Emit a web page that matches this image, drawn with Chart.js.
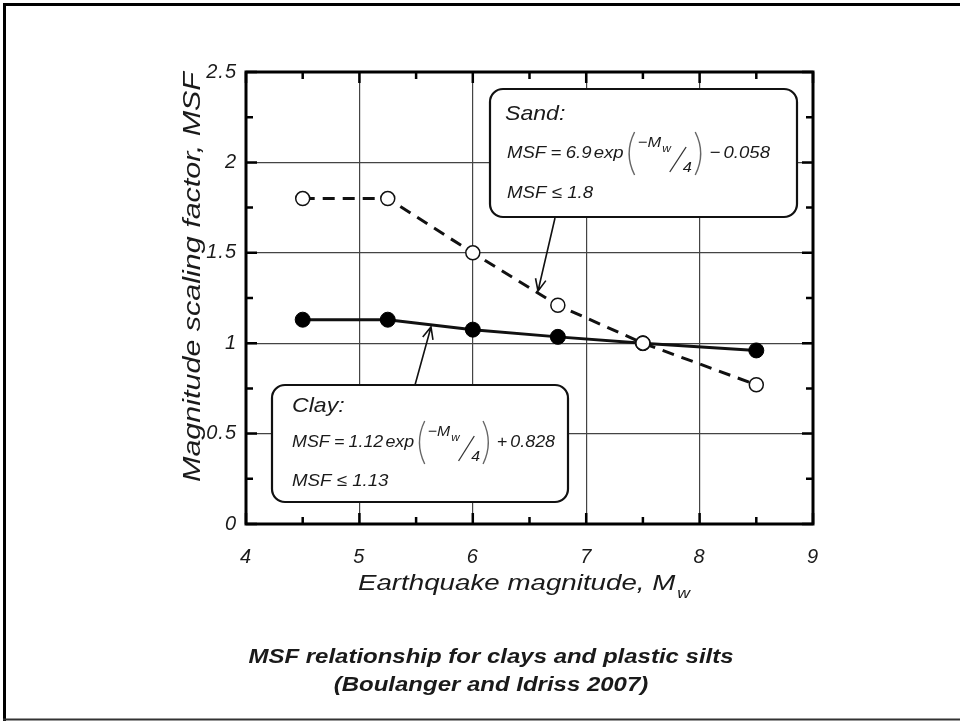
<!DOCTYPE html>
<html>
<head>
<meta charset="utf-8">
<script src="https://cdn.jsdelivr.net/npm/chart.js@4/dist/chart.umd.min.js"></script>
<style>
html,body{margin:0;padding:0;background:#fff;}
canvas{display:block;}
</style>
</head>
<body>
<canvas id="c" width="960" height="721"></canvas>
<script>
// ---- data ----
const magnitudes = [4.5, 5.25, 6, 6.75, 7.5, 8.5];
const sandMSF = [1.8, 1.8, 1.5, 1.21, 1.0, 0.77];
const clayMSF = [1.13, 1.13, 1.075, 1.035, 1.0, 0.96];
const xTickValues = [4, 5, 6, 7, 8, 9];
const yTickValues = [0, 0.5, 1, 1.5, 2, 2.5];
const xMinorTicks = [4.5, 5.5, 6.5, 7.5, 8.5];
const yMinorTicks = [0.25, 0.75, 1.25, 1.75, 2.25];
const xTitle = 'Earthquake magnitude, M';
const xTitleSub = 'w';
const yTitle = 'Magnitude scaling factor, MSF';
const captionLines = ['MSF relationship for clays and plastic silts', '(Boulanger and Idriss 2007)'];
const sandNote = { title: 'Sand:', coef: '6.9', op: '\u2212', constant: '0.058', limit: 'MSF \u2264 1.8' };
const clayNote = { title: 'Clay:', coef: '1.12', op: '+', constant: '0.828', limit: 'MSF \u2264 1.13' };

// ---- layout (not data) ----
const FAM = '"Liberation Sans", Arial, Helvetica, sans-serif';
const sandBox = { x: 490, y: 89, w: 307, h: 128, tx: 15, ty: 31, fx: 17, fy: 69, ly: 109,
                  arrow: [555, 218, 538, 291] };
const clayBox = { x: 272, y: 385, w: 296, h: 117, tx: 20, ty: 27, fx: 20, fy: 62, ly: 101,
                  arrow: [415, 385, 431, 327] };

function sText(ctx, text, x, y, font, align, sx, rot) {
  ctx.save();
  ctx.font = font;
  ctx.translate(x, y);
  if (rot) ctx.rotate(rot);
  ctx.scale(sx, 1);
  ctx.textAlign = align;
  ctx.textBaseline = 'alphabetic';
  ctx.fillText(text, 0, 0);
  ctx.restore();
}

function paren(ctx, x, top, bot, left) {
  ctx.save();
  ctx.strokeStyle = '#666';
  ctx.lineWidth = 1.3;
  ctx.beginPath();
  const mid = (top + bot) / 2;
  if (left) { ctx.moveTo(x + 8, top); ctx.quadraticCurveTo(x - 2, mid, x + 8, bot); }
  else { ctx.moveTo(x, top); ctx.quadraticCurveTo(x + 10, mid, x, bot); }
  ctx.stroke();
  ctx.restore();
}

function formula(ctx, note, draw) {
  let cur = 0;
  const main = 'italic 17px ' + FAM;
  const sup = 'italic 15px ' + FAM;
  const sub = 'italic 11px ' + FAM;
  const put = (t, font, dy, gap) => {
    ctx.font = font;
    if (draw) ctx.fillText(t, cur, dy);
    cur += ctx.measureText(t).width + gap;
  };
  put('MSF', main, 0, 4);
  put('=', main, 0, 4);
  put(note.coef, main, 0, 2);
  put('exp', main, 0, 2);
  if (draw) paren(ctx, cur, -26, 17, true);
  cur += 11;
  put('\u2212M', sup, -11, 1);
  put('w', sub, -6, 0);
  const s0 = cur;
  if (draw) {
    ctx.save();
    ctx.strokeStyle = '#333';
    ctx.lineWidth = 1.2;
    ctx.beginPath();
    ctx.moveTo(s0 - 1, 14);
    ctx.lineTo(s0 + 14, -11);
    ctx.stroke();
    ctx.restore();
  }
  ctx.font = sup;
  if (draw) ctx.fillText('4', s0 + 11, 14);
  cur = s0 + 11 + ctx.measureText('4').width + 3;
  if (draw) paren(ctx, cur, -26, 17, false);
  cur += 13;
  put(note.op, main, 0, 3);
  put(note.constant, main, 0, 0);
  return cur;
}

function drawNote(ctx, box, note) {
  ctx.save();
  ctx.beginPath();
  ctx.roundRect(box.x, box.y, box.w, box.h, 13);
  ctx.fillStyle = '#fff';
  ctx.fill();
  ctx.lineWidth = 2.2;
  ctx.strokeStyle = '#111';
  ctx.stroke();
  ctx.fillStyle = '#1a1a1a';
  sText(ctx, note.title, box.x + box.tx, box.y + box.ty, 'italic 21px ' + FAM, 'left', 1.1, 0);
  const natural = formula(ctx, note, false);
  const sx = 263 / natural;
  ctx.save();
  ctx.translate(box.x + box.fx, box.y + box.fy);
  ctx.scale(sx, 1);
  ctx.textAlign = 'left';
  ctx.textBaseline = 'alphabetic';
  formula(ctx, note, true);
  ctx.restore();
  sText(ctx, note.limit, box.x + box.fx, box.y + box.ly, 'italic 17px ' + FAM, 'left', 1.1, 0);
  ctx.restore();
}

function arrow(ctx, a) {
  const [x1, y1, x2, y2] = a;
  ctx.save();
  ctx.strokeStyle = '#111';
  ctx.lineWidth = 1.6;
  ctx.beginPath();
  ctx.moveTo(x1, y1);
  ctx.lineTo(x2, y2);
  const ang = Math.atan2(y2 - y1, x2 - x1);
  const L = 13, sp = 0.42;
  ctx.moveTo(x2 - L * Math.cos(ang - sp), y2 - L * Math.sin(ang - sp));
  ctx.lineTo(x2, y2);
  ctx.lineTo(x2 - L * Math.cos(ang + sp), y2 - L * Math.sin(ang + sp));
  ctx.stroke();
  ctx.restore();
}

const decorPlugin = {
  id: 'decor',
  beforeDraw(chart) {
    chart.ctx.letterSpacing = '1px';
  },
  beforeDatasetsDraw(chart) {
    chart.ctx.letterSpacing = '0px';
  },
  afterDraw(chart) {
    const ctx = chart.ctx;
    const xs = chart.scales.x, ys = chart.scales.y;
    const a = chart.chartArea;
    ctx.save();
    ctx.letterSpacing = '0px';
    // plot frame
    ctx.strokeStyle = '#000';
    ctx.lineWidth = 3;
    ctx.strokeRect(a.left, a.top, a.right - a.left, a.bottom - a.top);
    // inward ticks
    ctx.lineWidth = 2.5;
    ctx.beginPath();
    yTickValues.forEach(v => {
      const p = ys.getPixelForValue(v);
      ctx.moveTo(a.left, p); ctx.lineTo(a.left + 11, p);
      ctx.moveTo(a.right, p); ctx.lineTo(a.right - 11, p);
    });
    yMinorTicks.forEach(v => {
      const p = ys.getPixelForValue(v);
      ctx.moveTo(a.left, p); ctx.lineTo(a.left + 7, p);
      ctx.moveTo(a.right, p); ctx.lineTo(a.right - 7, p);
    });
    xTickValues.forEach(v => {
      const p = xs.getPixelForValue(v);
      ctx.moveTo(p, a.bottom); ctx.lineTo(p, a.bottom - 11);
      ctx.moveTo(p, a.top); ctx.lineTo(p, a.top + 11);
    });
    xMinorTicks.forEach(v => {
      const p = xs.getPixelForValue(v);
      ctx.moveTo(p, a.bottom); ctx.lineTo(p, a.bottom - 7);
      ctx.moveTo(p, a.top); ctx.lineTo(p, a.top + 7);
    });
    ctx.stroke();

    // axis titles
    ctx.fillStyle = '#1a1a1a';
    const xf = 'italic 22px ' + FAM;
    ctx.font = xf;
    const sxT = 1.26;
    const wMain = ctx.measureText(xTitle).width * sxT;
    ctx.font = 'italic 14px ' + FAM;
    const wSub = ctx.measureText(xTitleSub).width * sxT;
    const startX = 524 - (wMain + wSub + 2) / 2;
    sText(ctx, xTitle, startX, 590, xf, 'left', sxT, 0);
    sText(ctx, xTitleSub, startX + wMain + 2, 598, 'italic 14px ' + FAM, 'left', sxT, 0);
    sText(ctx, yTitle, 200, 277, 'italic 24px ' + FAM, 'center', 1.27, -Math.PI / 2);

    // caption
    sText(ctx, captionLines[0], 491, 663, 'italic bold 19.5px ' + FAM, 'center', 1.23, 0);
    sText(ctx, captionLines[1], 491, 691, 'italic bold 19.5px ' + FAM, 'center', 1.23, 0);

    // arrows and notes
    arrow(ctx, sandBox.arrow);
    arrow(ctx, clayBox.arrow);
    drawNote(ctx, sandBox, sandNote);
    drawNote(ctx, clayBox, clayNote);

    // page border
    ctx.strokeStyle = '#000';
    ctx.lineWidth = 3;
    ctx.beginPath();
    ctx.moveTo(4.5, 721); ctx.lineTo(4.5, 4.5); ctx.lineTo(960, 4.5);
    ctx.stroke();
    ctx.strokeStyle = '#333';
    ctx.lineWidth = 2;
    ctx.beginPath();
    ctx.moveTo(3, 719.5); ctx.lineTo(960, 719.5);
    ctx.stroke();
    ctx.restore();
  }
};

const tickFont = { family: FAM, size: 20, style: 'italic' };
const tickLabel = v => String(v);

new Chart(document.getElementById('c'), {
  type: 'scatter',
  data: {
    datasets: [
      {
        label: 'Sand',
        data: magnitudes.map((m, i) => ({ x: m, y: sandMSF[i] })),
        showLine: true,
        borderColor: '#111',
        borderWidth: 3,
        borderDash: [12, 8],
        pointRadius: 7,
        pointBorderWidth: 1.5,
        pointBackgroundColor: '#fff',
        pointBorderColor: '#111',
        tension: 0
      },
      {
        label: 'Clay',
        data: magnitudes.map((m, i) => ({ x: m, y: clayMSF[i] })),
        showLine: true,
        borderColor: '#111',
        borderWidth: 3,
        pointRadius: 7.5,
        pointBorderWidth: 1,
        pointBackgroundColor: '#000',
        pointBorderColor: '#000',
        tension: 0
      }
    ]
  },
  options: {
    responsive: false,
    animation: false,
    devicePixelRatio: 1,
    layout: { padding: { left: 0, top: 72, right: 147, bottom: 0 } },
    plugins: { legend: { display: false }, tooltip: { enabled: false } },
    scales: {
      x: {
        type: 'linear', min: 4, max: 9,
        afterBuildTicks: s => { s.ticks = xTickValues.map(v => ({ value: v })); },
        afterFit: s => { s.height = 197; },
        ticks: { font: tickFont, color: '#1a1a1a', padding: 21, callback: tickLabel },
        grid: { color: '#444', lineWidth: 1.2, drawTicks: false },
        border: { display: false }
      },
      y: {
        type: 'linear', min: 0, max: 2.5,
        afterBuildTicks: s => { s.ticks = yTickValues.map(v => ({ value: v })); },
        afterFit: s => { s.width = 246; },
        ticks: { font: tickFont, color: '#1a1a1a', padding: 9, callback: tickLabel },
        grid: { color: '#444', lineWidth: 1.2, drawTicks: false },
        border: { display: false }
      }
    }
  },
  plugins: [decorPlugin]
});
</script>
</body>
</html>
